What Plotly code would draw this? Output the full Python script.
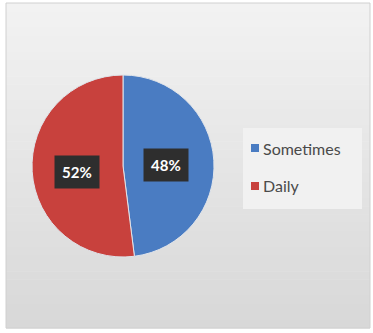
import plotly.graph_objects as go

labels = ["Sometimes", "Daily"]
values = [48, 52]
colors = ["#4a7cc2", "#c8413d"]

W, H = 373, 333

fig = go.Figure()
fig.add_trace(go.Pie(
    labels=labels, values=values, sort=False, direction="clockwise", rotation=0,
    marker=dict(colors=colors, line=dict(color="#e0e4ea", width=1)),
    textinfo="none", hoverinfo="label+percent", showlegend=False,
    domain=dict(x=[32 / W, 214 / W], y=[76 / H, 258 / H]),
))

shapes = []
# background gradient frame
x0, x1, y0, y1 = 6, 370, 3, 328
n = 40
top = (242, 242, 242)
bot = (216, 216, 216)
for i in range(n):
    t = i / (n - 1)
    c = tuple(int(round(top[k] + (bot[k] - top[k]) * t)) for k in range(3))
    ya = y0 + (y1 - y0) * i / n
    yb = y0 + (y1 - y0) * (i + 1) / n + 0.5
    shapes.append(dict(type="rect", xref="paper", yref="paper",
                       x0=x0 / W, x1=x1 / W, y0=1 - yb / H, y1=1 - ya / H,
                       fillcolor="rgb(%d,%d,%d)" % c, line=dict(width=0), layer="below"))
shapes.append(dict(type="rect", xref="paper", yref="paper",
                   x0=x0 / W, x1=x1 / W, y0=1 - y1 / H, y1=1 - y0 / H,
                   fillcolor="rgba(0,0,0,0)", line=dict(color="#d0d0d0", width=1), layer="below"))
# legend box
shapes.append(dict(type="rect", xref="paper", yref="paper",
                   x0=243 / W, x1=362 / W, y0=1 - 209 / H, y1=1 - 128 / H,
                   fillcolor="#f1f1f1", line=dict(width=0), layer="below"))

annotations = []
# legend entries
leg_y = [148, 186]
for lab, col, yy in zip(labels, colors, leg_y):
    shapes.append(dict(type="rect", xref="paper", yref="paper",
                       x0=251 / W, x1=259 / W, y0=1 - (yy + 4) / H, y1=1 - (yy - 4) / H,
                       fillcolor=col, line=dict(width=0)))
    annotations.append(dict(text=lab, x=261 / W, y=1 - yy / H, xref="paper", yref="paper",
                            xanchor="left", yanchor="middle", showarrow=False,
                            font=dict(family="Lato", size=16, color="#4a4a4a")))

# data labels
total = sum(values)
lab_pos = [(166, 165), (77, 172)]
for v, (px, py) in zip(values, lab_pos):
    annotations.append(dict(text="<b>%d%%</b>" % round(100 * v / total),
                            x=px / W, y=1 - py / H, xref="paper", yref="paper",
                            xanchor="center", yanchor="middle", showarrow=False,
                            font=dict(family="Lato", size=15, color="white"),
                            bgcolor="#2e2e2e", borderpad=7))

fig.update_layout(
    width=W, height=H, margin=dict(l=0, r=0, t=0, b=0),
    paper_bgcolor="white", plot_bgcolor="white",
    shapes=shapes, annotations=annotations, showlegend=False,
)
fig.write_html("out.html")
